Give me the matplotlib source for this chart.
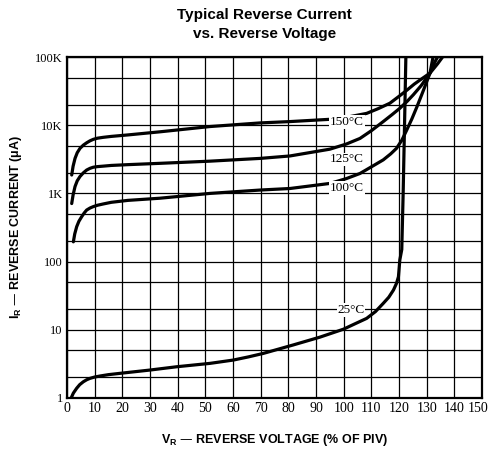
import numpy as np
import matplotlib.pyplot as plt
from matplotlib.ticker import FixedLocator
import matplotlib.transforms as mtrans

# Curve data (x = % of PIV, y = reverse current in uA)
v_150 = [1.7, 2.2, 2.9, 3.7, 4.7, 5.9, 7.1, 8.3, 9.5, 11, 13.1, 16, 22, 33.6, 51.7, 69.8, 80.6, 95,
         102, 108.3, 112.5, 116.7, 120, 122.8, 125.5, 127.6, 129.5, 131.2, 134.0, 136.5]
i_150 = [1860, 2500, 3260, 3950, 4580, 5100, 5520, 5900, 6200, 6450, 6640, 6850, 7200, 8000, 9560, 10800,
         11300, 12200, 13300, 14900, 17500, 21000, 26500, 32500, 40000, 46000, 52000, 58000, 80000, 110000]

v_125 = [1.7, 2.2, 2.9, 3.7, 4.7, 5.9, 7.1, 8.3, 9.5, 11, 13.1, 16, 22, 33.6, 51.7, 69.8, 80.6, 95,
         101, 105.9, 110, 114.3, 117.5, 120.3, 123, 125.2, 128, 131.2, 133.0, 134.5]
i_125 = [710, 950, 1260, 1530, 1770, 2000, 2200, 2330, 2420, 2470, 2510, 2570, 2640, 2760, 2970, 3260,
         3540, 4450, 5300, 6400, 8300, 11300, 14300, 17700, 22500, 28000, 38000, 58000, 85000, 110000]

v_100 = [2.3, 2.8, 3.5, 4.3, 5.3, 6.2, 7.1, 8.3, 9.5, 11, 13.1, 16, 22, 33.6, 51.7, 69.8, 80.6, 95,
         101, 105.9, 110, 114.3, 117, 119.1, 121, 122.8, 124.7, 126.5, 128.9, 131.2, 132.5]
i_100 = [195, 255, 325, 390, 455, 515, 570, 610, 640, 670, 700, 740, 790, 850, 1000, 1120, 1180, 1400,
         1650, 1960, 2450, 3100, 3800, 4580, 6000, 8500, 12500, 18700, 33000, 58000, 110000]

v_25 = [1.5, 2.3, 3.5, 4.6, 5.9, 7.1, 8.3, 10, 11.9, 15, 19.2, 30, 39.6, 51.7, 60.1, 65.5, 70.9, 81.8,
        91.4, 99.9, 104, 108.3, 111.5, 114.3, 116.3, 118, 119.1, 119.8, 120.3, 121, 121.5, 122, 122.5]
i_25 = [1.0, 1.18, 1.39, 1.57, 1.73, 1.85, 1.94, 2.03, 2.1, 2.2, 2.3, 2.57, 2.87, 3.22, 3.6, 4.0, 4.5,
        6.0, 7.8, 10.2, 12.2, 14.7, 18.5, 24.4, 30, 38.3, 48, 60, 106, 150, 1000, 10000, 110000]

x_ticks = list(range(0, 151, 10))
y_ticks = [1, 10, 100, 1000, 10000, 100000]
y_tick_labels = ['1', '10', '100', '1K', '10K', '100K']

fig = plt.figure(figsize=(4.9, 4.49), dpi=100)
ax = fig.add_axes([67 / 490, 1 - 398 / 449, 415 / 490, 341 / 449])

ax.set_yscale('log')
ax.set_xlim(0, 150)
ax.set_ylim(1, 100000)

# Grid: every 10 % on x, 1-2-5 per decade on y
ax.xaxis.set_major_locator(FixedLocator(x_ticks))
ax.yaxis.set_major_locator(FixedLocator(y_ticks))
ax.yaxis.set_minor_locator(FixedLocator([m * 10 ** d for d in range(5) for m in (2, 5)]))
ax.yaxis.set_minor_formatter(plt.NullFormatter())
ax.grid(True, which='both', color='black', lw=0.9)
ax.set_axisbelow(True)

for v, i in [(v_150, i_150), (v_125, i_125), (v_100, i_100), (v_25, i_25)]:
    ax.plot(v, i, color='black', lw=2.3, solid_capstyle='round', solid_joinstyle='round', zorder=3)

# Curve labels
lbl = dict(fontsize=9.5, family='Liberation Serif', ha='center', va='center', zorder=4,
           bbox=dict(facecolor='white', edgecolor='none', pad=0.5))
ax.text(101.2, 11100, '150°C', **lbl)
ax.text(101.2, 3170, '125°C', **lbl)
ax.text(101.2, 1200, '100°C', **lbl)
ax.text(102.7, 19.5, '25°C', **lbl)

ax.set_xticklabels([str(t) for t in x_ticks], family='Liberation Serif', fontsize=10)
ax.set_yticklabels(y_tick_labels, family='Liberation Serif', fontsize=9)
ax.tick_params(which='both', length=0, pad=3)

# keep the last x label inside the figure
last = ax.get_xticklabels()[-1]
last.set_transform(last.get_transform() + mtrans.ScaledTranslation(-4 / 100, 0, fig.dpi_scale_trans))

for s in ax.spines.values():
    s.set_linewidth(1.6)

ax.set_xlabel(r'V$_\mathregular{R}$ — REVERSE VOLTAGE (% OF PIV)', family='Liberation Sans',
              fontsize=9, fontweight='bold', labelpad=12)
ax.set_ylabel(r'I$_\mathregular{R}$ — REVERSE CURRENT ($\mathregular{\mu}$A)', family='Liberation Sans',
              fontsize=9, fontweight='bold', labelpad=8)

fig.text(0.54, 0.982, 'Typical Reverse Current\nvs. Reverse Voltage', ha='center', va='top',
         family='Liberation Sans', fontsize=11, fontweight='bold', linespacing=1.45)

fig.savefig('out.png', dpi=100)
